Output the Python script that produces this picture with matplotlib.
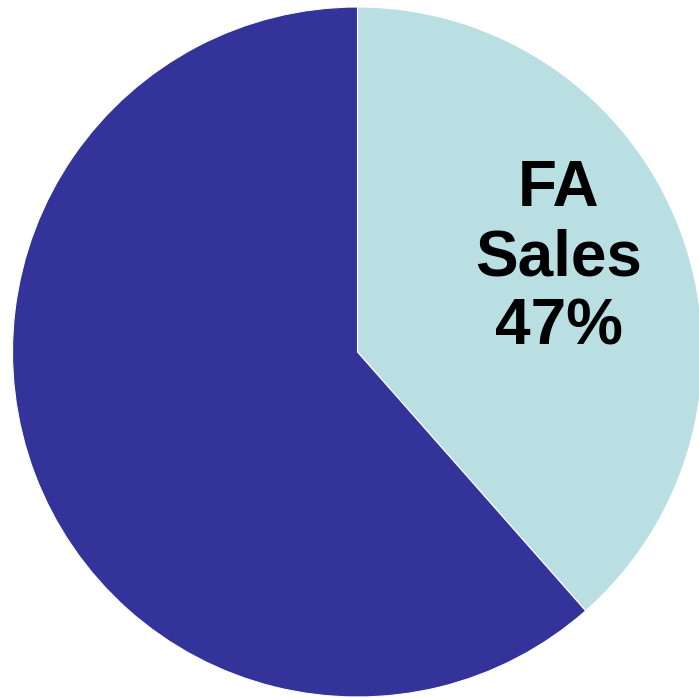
import matplotlib
matplotlib.use("Agg")
import matplotlib.pyplot as plt

categories = ["FA Sales", "Other"]
values = [38.5, 61.5]
colors = ["#B9DFE3", "#333399"]
label_text = "FA\nSales\n47%"

fig = plt.figure(figsize=(6.99, 6.98), dpi=100)
ax = fig.add_axes([0, 0, 1, 1])
ax.pie(values, colors=colors, startangle=90, counterclock=False,
       radius=1.0, center=(0, 0),
       wedgeprops=dict(edgecolor="white", linewidth=0.8))
r = 345.0
cx, cy = 357.5, 352.0
ax.set_xlim(-cx / r, (699 - cx) / r)
ax.set_ylim(-(698 - cy) / r, cy / r)
ax.set_aspect("auto")
ax.axis("off")
ax.text(0.584, 0.272, label_text, ha="center", va="center",
        fontsize=46, fontweight="bold", family="Liberation Sans",
        linespacing=1.19, color="black")
fig.savefig("out.png", dpi=100)
